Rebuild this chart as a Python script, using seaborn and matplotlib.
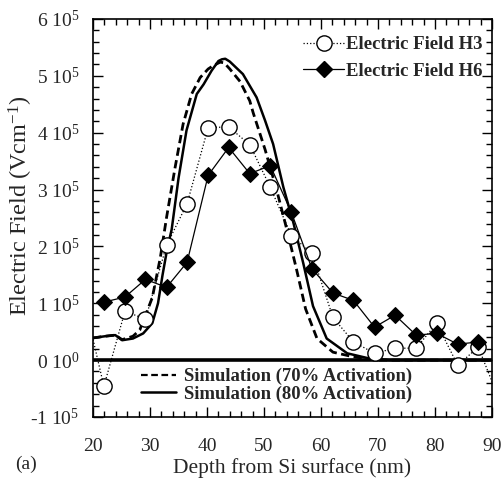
import numpy as np
import seaborn as sns
import matplotlib
matplotlib.use('Agg')
import matplotlib.pyplot as plt
from matplotlib.lines import Line2D
from matplotlib.ticker import FixedLocator, FixedFormatter, MultipleLocator

# measured points (depth in nm, field in 1e5 V/cm)
depth_pts = [21.9, 25.6, 29.2, 32.9, 36.5, 40.2, 43.8, 47.5, 51.1, 54.8,
             58.4, 62.1, 65.7, 69.4, 73.0, 76.7, 80.3, 84.0, 87.6]
field_h3 = [-0.46, 0.86, 0.72, 2.02, 2.75, 4.09, 4.1, 3.79, 3.04, 2.19,
            1.88, 0.75, 0.32, 0.12, 0.21, 0.21, 0.65, -0.09, 0.23]
field_h6 = [1.02, 1.11, 1.42, 1.28, 1.72, 3.25, 3.74, 3.28, 3.42, 2.6,
            1.61, 1.18, 1.05, 0.58, 0.79, 0.44, 0.47, 0.28, 0.32]
# H3 line continues past the plot edges
h3_edge_x = [18.3, 91.5]
h3_edge_y = [1.1, -0.75]

# simulation curves
sim80_x = [20.0, 22.1, 23.9, 25.1, 27.0, 28.8, 30.4, 31.4, 32.2, 33.0, 33.8,
           35.0, 36.4, 38.2, 39.4, 40.8, 42.0, 42.6, 43.2, 44.0, 46.3, 48.7,
           50.2, 51.6, 53.4, 55.2, 56.9, 58.6, 61.0, 64.6, 68.0, 72.0, 80.0,
           90.0]
sim80_y = [0.39, 0.42, 0.44, 0.35, 0.38, 0.47, 0.65, 1.0, 1.5, 1.95, 2.3,
           3.2, 4.04, 4.68, 4.85, 5.09, 5.26, 5.29, 5.3, 5.25, 5.03, 4.62,
           4.21, 3.8, 3.04, 2.4, 1.7, 0.95, 0.38, 0.12, 0.04, 0.0, 0.0, 0.0]
sim70_x = [20.0, 22.1, 23.9, 25.1, 27.0, 28.2, 30.4, 31.8, 32.9, 34.4, 35.8,
           37.3, 38.8, 40.2, 41.1, 42.3, 43.0, 44.0, 45.8, 47.5, 48.1, 50.2,
           52.2, 54.0, 55.7, 57.3, 59.3, 62.1, 65.6, 70.0, 80.0, 90.0]
sim70_y = [0.39, 0.42, 0.44, 0.36, 0.42, 0.53, 1.1, 1.8, 2.51, 3.39, 4.15,
           4.68, 4.97, 5.12, 5.18, 5.24, 5.23, 5.12, 4.9, 4.56, 4.35, 3.7,
           3.0, 2.3, 1.6, 0.9, 0.38, 0.14, 0.06, 0.0, 0.0, 0.0]

yticks = [-1, 0, 1, 2, 3, 4, 5, 6]
ytick_labels = [r'-1 $\mathregular{10^{5}}$', r'0 $\mathregular{10^{0}}$'] + \
               [r'%d $\mathregular{10^{5}}$' % v for v in yticks[2:]]

sns.set_style('ticks')
plt.rcParams['font.family'] = ['Liberation Serif', 'DejaVu Serif']
plt.rcParams['mathtext.fontset'] = 'custom'
plt.rcParams['mathtext.rm'] = 'Liberation Serif'
plt.rcParams['mathtext.it'] = 'Liberation Serif:italic'
plt.rcParams['mathtext.bf'] = 'Liberation Serif:bold'

fig = plt.figure(figsize=(5.03, 4.86), dpi=100)
ax = fig.add_axes([0.185, 0.142, 0.793, 0.819])

h3_x = [h3_edge_x[0]] + depth_pts + [h3_edge_x[1]]
h3_y = [h3_edge_y[0]] + field_h3 + [h3_edge_y[1]]

sns.lineplot(x=sim70_x, y=sim70_y, ax=ax, color='black', lw=2.0,
             linestyle=(0, (3, 1.6)), sort=False)
sns.lineplot(x=sim80_x, y=sim80_y, ax=ax, color='black', lw=1.8, sort=False)
ax.axhline(0, color='black', lw=2.6, zorder=3)
sns.lineplot(x=h3_x, y=h3_y, ax=ax, color='black', lw=0.9, linestyle=':',
             sort=False, zorder=4)
sns.lineplot(x=depth_pts, y=field_h3, ax=ax, color='black', lw=0, marker='o',
             markersize=11, markerfacecolor='white', markeredgecolor='black',
             markeredgewidth=1.0, sort=False, zorder=5)
sns.lineplot(x=depth_pts, y=field_h6, ax=ax, color='black', lw=0.9,
             marker='D', markersize=8.5, markerfacecolor='black',
             markeredgecolor='black', sort=False, zorder=5)

ax.set_xlim(20, 90)
ax.set_ylim(-1, 6)
ax.xaxis.set_major_locator(MultipleLocator(10))
ax.xaxis.set_minor_locator(MultipleLocator(2))
ax.yaxis.set_major_locator(FixedLocator(yticks))
ax.yaxis.set_major_formatter(FixedFormatter(ytick_labels))
ax.yaxis.set_minor_locator(MultipleLocator(0.2))
ax.tick_params(which='both', direction='in', top=True, right=True,
               color='black', width=1.0)
ax.tick_params(which='major', length=7)
ax.tick_params(which='minor', length=4)
ax.tick_params(axis='x', which='major', labelsize=14, pad=15)
ax.tick_params(axis='y', which='major', labelsize=14, pad=10)
for s in ax.spines.values():
    s.set_linewidth(1.2)
    s.set_color('black')

ax.set_xlabel('Depth from Si surface (nm)', fontsize=15.5, labelpad=2)
ax.set_ylabel(r'Electric Field (Vcm$^{\mathregular{-1}}$)', fontsize=17.5)
ax.yaxis.set_label_coords(-0.145, 0.53)
fig.text(0.03, 0.035, '(a)', fontsize=14)

h1 = [Line2D([], [], color='black', lw=0.9, linestyle=':', marker='o',
             markersize=11, markerfacecolor='white', markeredgecolor='black'),
      Line2D([], [], color='black', lw=0.9, marker='D', markersize=8.5,
             markerfacecolor='black')]
leg1 = ax.legend(h1, ['Electric Field H3', 'Electric Field H6'],
                 loc='upper right', bbox_to_anchor=(1.0, 0.98),
                 frameon=False, handlelength=2.2,
                 handletextpad=0.1, labelspacing=0.5, borderaxespad=0.1,
                 prop={'weight': 'bold', 'size': 13.5})
ax.add_artist(leg1)

h2 = [Line2D([], [], color='black', lw=1.6, linestyle=(0, (3, 1.6))),
      Line2D([], [], color='black', lw=1.8)]
ax.legend(h2, ['Simulation (70% Activation)', 'Simulation (80% Activation)'],
          loc='lower center', bbox_to_anchor=(0.46, 0.008), frameon=False,
          handlelength=1.9, handletextpad=0.43, labelspacing=0.0,
          borderaxespad=0.2, prop={'weight': 'bold', 'size': 13.4})

fig.savefig('out.png', dpi=100)
